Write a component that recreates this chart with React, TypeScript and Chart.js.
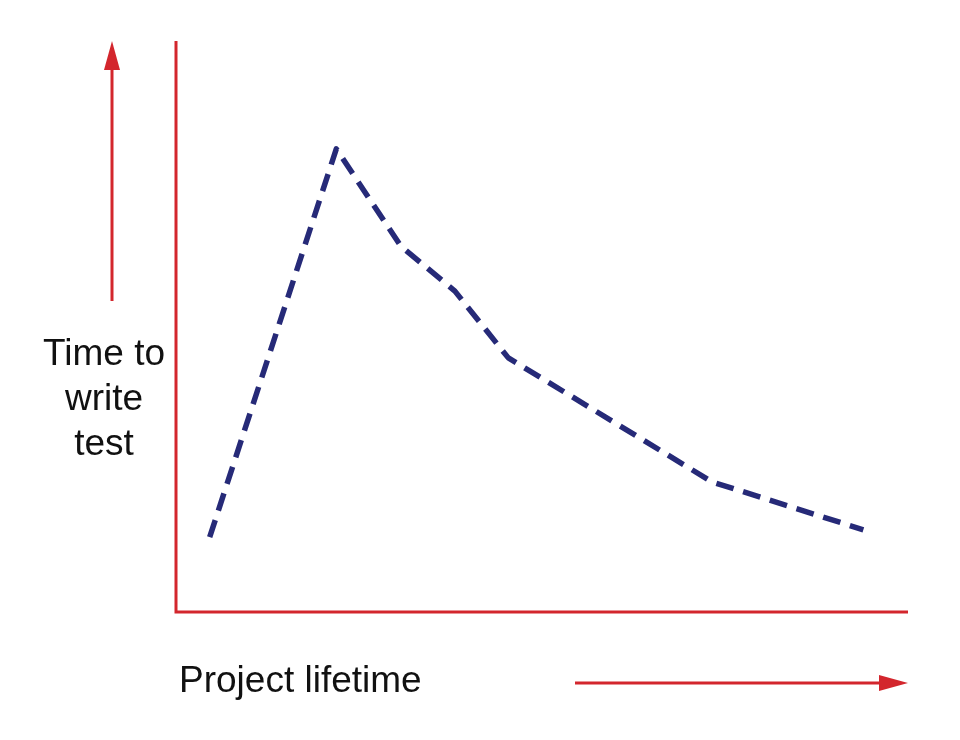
import React, { useEffect, useRef } from "react";
import { Chart, registerables } from "chart.js";

Chart.register(...registerables);

// Project lifetime (x, arbitrary 0-100) and time to write a test (y, arbitrary 0-100)
const lifetime = [4.6, 21.9, 30.7, 38.1, 45.4, 73.2, 93.9];
const timeToWrite = [13.1, 81.1, 64.1, 56.2, 44.5, 22.8, 14.4];
const xLabel = "Project lifetime";
const yLabelLines = ["Time to", "write", "test"];

const RED = "#d3262d";
const NAVY = "#262a78";
const FONT = "37px 'Liberation Sans', Arial, sans-serif";

const decorPlugin = {
  id: "decor",
  afterDraw(chart: any) {
    const { ctx, chartArea } = chart;
    const { left, right, top, bottom } = chartArea;
    ctx.save();
    ctx.strokeStyle = RED;
    ctx.fillStyle = RED;
    ctx.lineWidth = 3;
    ctx.lineCap = "butt";
    // axes
    ctx.beginPath();
    ctx.moveTo(left, top);
    ctx.lineTo(left, bottom);
    ctx.lineTo(right, bottom);
    ctx.stroke();
    // vertical arrow
    const ax = left - 64;
    ctx.beginPath();
    ctx.moveTo(ax, top + 260);
    ctx.lineTo(ax, top + 20);
    ctx.stroke();
    ctx.beginPath();
    ctx.moveTo(ax, top);
    ctx.lineTo(ax - 8, top + 29);
    ctx.lineTo(ax + 8, top + 29);
    ctx.closePath();
    ctx.fill();
    // horizontal arrow
    const ay = bottom + 71;
    ctx.beginPath();
    ctx.moveTo(right - 333, ay);
    ctx.lineTo(right - 20, ay);
    ctx.stroke();
    ctx.beginPath();
    ctx.moveTo(right, ay);
    ctx.lineTo(right - 29, ay - 8);
    ctx.lineTo(right - 29, ay + 8);
    ctx.closePath();
    ctx.fill();
    // texts
    ctx.fillStyle = "#111111";
    ctx.font = FONT;
    ctx.textBaseline = "alphabetic";
    ctx.textAlign = "left";
    ctx.fillText(xLabel, left + 3, bottom + 80);
    ctx.textAlign = "center";
    yLabelLines.forEach((line, i) => {
      ctx.fillText(line, left - 72, top + 324 + i * 45);
    });
    ctx.restore();
  },
};

export default function App() {
  const canvasRef = useRef<HTMLCanvasElement | null>(null);

  useEffect(() => {
    document.body.style.margin = "0";
    const canvas = canvasRef.current;
    if (!canvas) return;
    const chart = new Chart(canvas, {
      type: "line",
      data: {
        datasets: [
          {
            data: lifetime.map((x, i) => ({ x, y: timeToWrite[i] })),
            borderColor: NAVY,
            borderWidth: 5.5,
            borderDash: [18, 10],
            borderCapStyle: "butt",
            borderJoinStyle: "round",
            pointRadius: 0,
            fill: false,
            tension: 0,
          },
        ],
      },
      options: {
        responsive: false,
        animation: false,
        events: [],
        layout: { padding: { left: 176, right: 52, top: 41, bottom: 128 } },
        plugins: {
          legend: { display: false },
          tooltip: { enabled: false },
          title: { display: false },
        },
        scales: {
          x: { type: "linear", min: 0, max: 100, display: false },
          y: { type: "linear", min: 0, max: 100, display: false },
        },
      },
      plugins: [decorPlugin],
    });
    return () => chart.destroy();
  }, []);

  return (
    <div style={{ width: 960, height: 740, background: "#ffffff" }}>
      <canvas ref={canvasRef} width={960} height={740} style={{ display: "block" }} />
    </div>
  );
}
